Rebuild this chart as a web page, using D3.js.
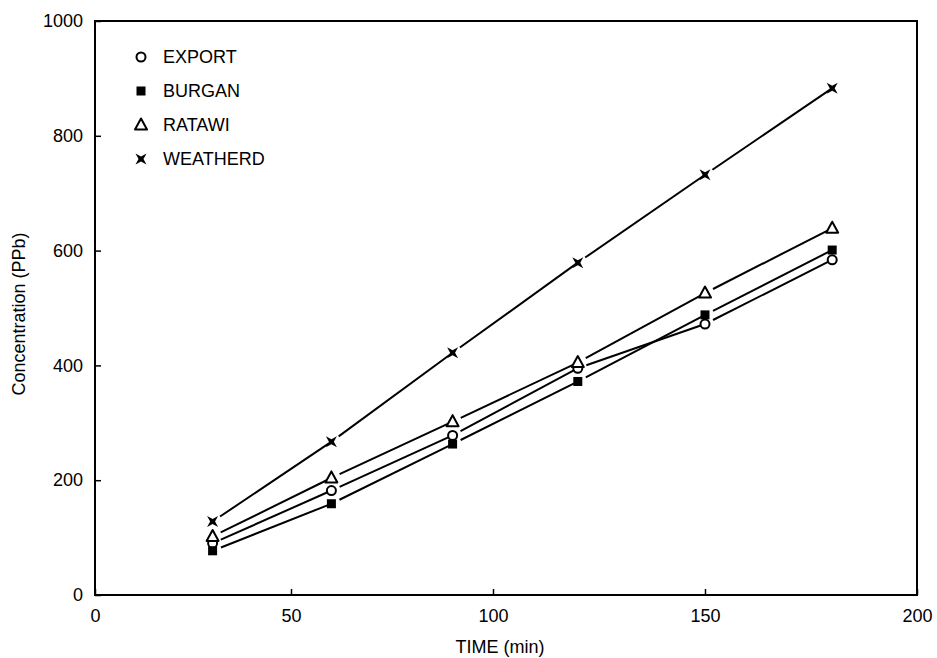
<!DOCTYPE html>
<html>
<head>
<meta charset="utf-8">
<script src="https://cdn.jsdelivr.net/npm/d3@7"></script>
<style>
  html, body { margin: 0; padding: 0; background: #fff; }
  svg { display: block; font-family: "Liberation Sans", Arial, sans-serif; }
</style>
</head>
<body>
<svg id="chart" width="937" height="658"></svg>
<script>
// Sampling times (min)
const times = [30, 60, 90, 120, 150, 180];

// Concentration (ppb) per crude oil sample
const exportVals   = [90, 182, 278, 395, 472, 584];
const burganVals   = [77, 159, 263, 372, 488, 601];
const ratawiVals   = [102, 204, 302, 405, 526, 639];
const weatherdVals = [128, 267, 422, 579, 732, 883];

const seriesNames = ["EXPORT", "BURGAN", "RATAWI", "WEATHERD"];
const seriesVals  = [exportVals, burganVals, ratawiVals, weatherdVals];
const symbolKinds = ["circle", "square", "triangle", "star"];

const xTicks = [0, 50, 100, 150, 200];
const yTicks = [0, 200, 400, 600, 800, 1000];

const svg = d3.select("#chart");
const plotLeft = 95, plotRight = 917, plotTop = 21, plotBottom = 595;
const fontSize = "18px";

// The time axis of the printed graph is slightly stretched toward the right,
// so the scale passes through each labelled tick.
const x = d3.scaleLinear().domain(xTicks).range([plotLeft, 291, 493, 705, plotRight]);
const y = d3.scaleLinear().domain([0, 1000]).range([plotBottom, plotTop]);

// Frame
svg.append("rect")
  .attr("x", plotLeft).attr("y", plotTop)
  .attr("width", plotRight - plotLeft).attr("height", plotBottom - plotTop)
  .attr("fill", "none").attr("stroke", "#000").attr("stroke-width", 2);

// Axes with inward ticks
const xAxis = svg.append("g").attr("transform", `translate(0,${plotBottom})`)
  .call(d3.axisBottom(x).tickValues(xTicks).tickSizeInner(-6).tickSizeOuter(0).tickPadding(12).tickFormat(d3.format("d")));
const yAxis = svg.append("g").attr("transform", `translate(${plotLeft},0)`)
  .call(d3.axisLeft(y).tickValues(yTicks).tickSizeInner(-6).tickSizeOuter(0).tickPadding(12).tickFormat(d3.format("d")));
[xAxis, yAxis].forEach(g => {
  g.select(".domain").remove();
  g.selectAll(".tick line").attr("stroke", "#000").attr("stroke-width", 1.5);
  g.selectAll(".tick text").attr("fill", "#000").style("font-size", fontSize)
    .style("font-family", "'Liberation Sans', Arial, sans-serif");
});
xAxis.selectAll(".tick text").attr("dy", "0.85em");

// Axis titles
svg.append("text").attr("x", 500).attr("y", 653).attr("text-anchor", "middle")
  .style("font-size", fontSize).attr("fill", "#000").text("TIME (min)");
svg.append("text")
  .attr("transform", `translate(25,${(plotTop + plotBottom) / 2 + 6}) rotate(-90)`)
  .attr("text-anchor", "middle").style("font-size", fontSize).attr("fill", "#000")
  .text("Concentration (PPb)");

// Marker drawing
function starPath(s) {
  const k = s * 0.45;
  return `M${-s},${-s}L0,${-k}L${s},${-s}L${k},0L${s},${s}L0,${k}L${-s},${s}L${-k},0Z`;
}
function drawMarker(g, kind, cx, cy) {
  if (kind === "circle") {
    g.append("circle").attr("cx", cx).attr("cy", cy).attr("r", 4.5)
      .attr("fill", "#fff").attr("stroke", "#000").attr("stroke-width", 2);
  } else if (kind === "square") {
    g.append("rect").attr("x", cx - 4.5).attr("y", cy - 4.5).attr("width", 9).attr("height", 9)
      .attr("fill", "#000");
  } else if (kind === "triangle") {
    g.append("path").attr("transform", `translate(${cx},${cy})`)
      .attr("d", "M0,-6.5L6,4.5L-6,4.5Z")
      .attr("fill", "#fff").attr("stroke", "#000").attr("stroke-width", 2).attr("stroke-linejoin", "round");
  } else {
    g.append("path").attr("transform", `translate(${cx},${cy})`)
      .attr("d", starPath(5.5)).attr("fill", "#000");
  }
}

// Connecting lines: each segment leaves a small gap after its starting marker
const lines = svg.append("g");
seriesVals.forEach(vals => {
  for (let i = 0; i < times.length - 1; i++) {
    const x0 = x(times[i]), y0 = y(vals[i]);
    const x1 = x(times[i + 1]), y1 = y(vals[i + 1]);
    const len = Math.hypot(x1 - x0, y1 - y0);
    const ux = (x1 - x0) / len, uy = (y1 - y0) / len;
    const g0 = 9, g1 = 3;
    lines.append("line")
      .attr("x1", x0 + ux * g0).attr("y1", y0 + uy * g0)
      .attr("x2", x1 - ux * g1).attr("y2", y1 - uy * g1)
      .attr("stroke", "#000").attr("stroke-width", 2);
  }
});

// Markers
const marks = svg.append("g");
seriesVals.forEach((vals, si) => {
  times.forEach((t, i) => drawMarker(marks, symbolKinds[si], x(t), y(vals[i])));
});

// Legend
const legend = svg.append("g");
const legendY = [57, 91, 125, 159];
seriesNames.forEach((name, i) => {
  drawMarker(legend, symbolKinds[i], 141, legendY[i]);
  legend.append("text").attr("x", 163).attr("y", legendY[i] + 6)
    .style("font-size", fontSize).attr("fill", "#000").text(name);
});
</script>
</body>
</html>
